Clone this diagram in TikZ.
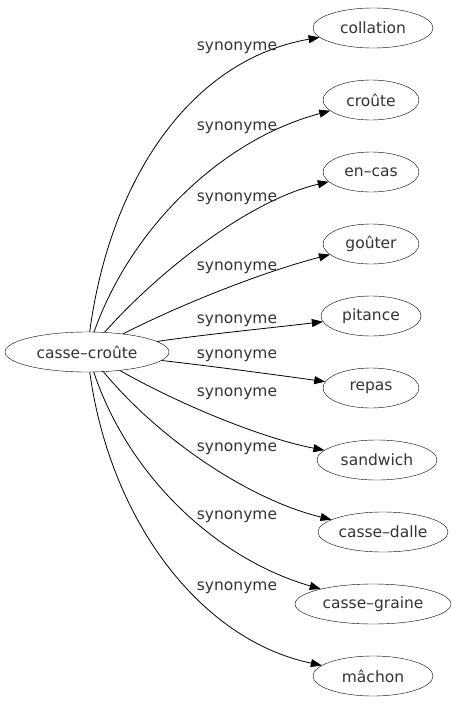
\documentclass[tikz,border=0pt]{standalone}
\usepackage{fontspec}
\setmainfont{DejaVu Sans}
\usetikzlibrary{shapes.geometric,arrows.meta}
\definecolor{txt}{HTML}{333333}
\begin{document}
\begin{tikzpicture}[x=1pt,y=-1pt,
  word/.style={draw,ellipse,inner sep=0pt,minimum height=40pt,text=txt,font=\fontsize{15.5}{17}\selectfont},
  lbl/.style={font=\fontsize{15.5}{17}\selectfont,text=txt,inner sep=0pt},
  edge/.style={draw,line width=0.8pt,-{Triangle[length=11pt,width=8pt]}}]
\useasboundingbox (0,0) rectangle (457,707);
\node[word,minimum width=164pt] (cc) at (87,352) {casse–croûte};
\node[word,minimum width=120pt] (n1) at (373,28) {collation};
\node[word,minimum width=96pt] (n2) at (371,100) {croûte};
\node[word,minimum width=96pt] (n3) at (371,172) {en–cas};
\node[word,minimum width=96pt] (n4) at (371,244) {goûter};
\node[word,minimum width=100pt] (n5) at (371,316) {pitance};
\node[word,minimum width=96pt] (n6) at (371,388) {repas};
\node[word,minimum width=120pt] (n7) at (377,460) {sandwich};
\node[word,minimum width=130pt] (n8) at (383,532) {casse–dalle};
\node[word,minimum width=156pt] (n9) at (373,604) {casse–graine};
\node[word,minimum width=120pt] (n10) at (373,676) {mâchon};
\draw[edge] (cc) .. controls (110,180) and (190,60) .. (n1);
\draw[edge] (cc) .. controls (130,230) and (220,140) .. (n2);
\draw[edge] (cc) .. controls (160,270) and (250,200) .. (n3);
\draw[edge] (cc) .. controls (190,300) and (270,270) .. (n4);
\draw[edge] (cc) .. controls (200,335) and (270,328) .. (n5);
\draw[edge] (cc) .. controls (210,366) and (270,374) .. (n6);
\draw[edge] (cc) .. controls (190,410) and (270,440) .. (n7);
\draw[edge] (cc) .. controls (160,440) and (250,500) .. (n8);
\draw[edge] (cc) .. controls (130,480) and (220,560) .. (n9);
\draw[edge] (cc) .. controls (110,520) and (200,640) .. (n10);
\node[lbl] (l1) at (237,48) {synonyme};
\node[lbl] (l2) at (237,128) {synonyme};
\node[lbl] (l3) at (237,199) {synonyme};
\node[lbl] (l4) at (237,268) {synonyme};
\node[lbl] (l5) at (237,321) {synonyme};
\node[lbl] (l6) at (237,356) {synonyme};
\node[lbl] (l7) at (237,394) {synonyme};
\node[lbl] (l8) at (237,449) {synonyme};
\node[lbl] (l9) at (237,517) {synonyme};
\node[lbl] (l10) at (237,588) {synonyme};
\end{tikzpicture}
\end{document}
